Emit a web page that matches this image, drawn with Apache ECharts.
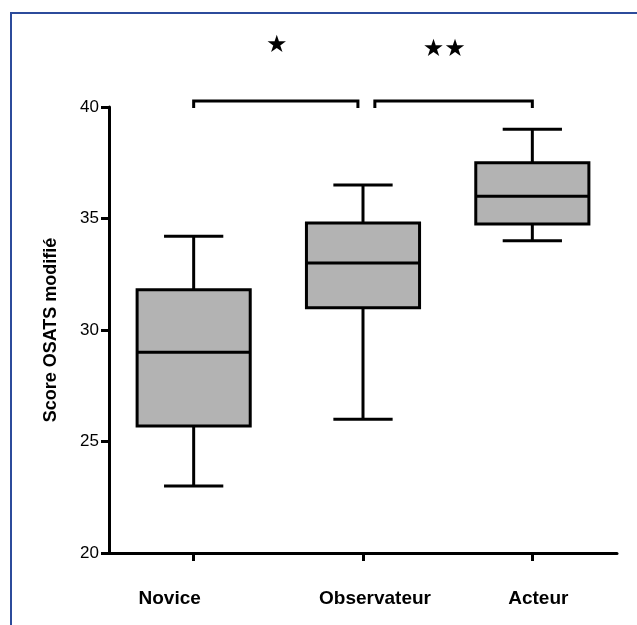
<!DOCTYPE html>
<html>
<head>
<meta charset="utf-8">
<script src="https://cdn.jsdelivr.net/npm/echarts@6/dist/echarts.min.js"></script>
<style>
html,body{margin:0;padding:0;background:#fff;}
#chart{width:637px;height:625px;}
</style>
</head>
<body>
<div id="chart"></div>
<script>
// ---- data ----
const categories = ['Novice', 'Observateur', 'Acteur'];
const whiskerMin = [23, 26, 34];
const quartile1 = [25.7, 31, 34.75];
const medians = [29, 33, 36];
const quartile3 = [31.8, 34.8, 37.5];
const whiskerMax = [34.2, 36.5, 39];
const yMin = 20, yMax = 40, yStep = 5;
const axisTitle = 'Score OSATS modifié';
// significance brackets (category positions, score levels)
const bracketFrom = [0, 1.07];
const bracketTo = [0.97, 2.0];
const bracketLevel = [40.27, 40.27];
const bracketFoot = [39.95, 39.95];
const starLabels = ['★', '★★'];
const starPos = [0.49, 1.48];
const starLevel = [42.74, 42.56];

const FONT = '"Liberation Sans", Arial, sans-serif';
const boxData = categories.map((c, i) => [i, whiskerMin[i], quartile1[i], medians[i], quartile3[i], whiskerMax[i]]);

function xAt(api, v, y) {
  const base = Math.floor(v);
  const band = api.size([1, 0])[0];
  const p = api.coord([base, y]);
  return [p[0] + (v - base) * band, p[1]];
}

const chart = echarts.init(document.getElementById('chart'));
chart.setOption({
  animation: false,
  backgroundColor: 'transparent',
  graphic: [{
    type: 'polyline',
    shape: { points: [[11, 625], [11, 13], [637, 13]] },
    style: { stroke: '#2c4b9b', lineWidth: 2, fill: null }
  }],
  grid: { left: 109, right: 20, top: 107, bottom: 72 },
  xAxis: {
    type: 'category',
    data: categories,
    axisLine: { lineStyle: { color: '#000', width: 3 } },
    axisTick: { show: true, interval: 0, alignWithLabel: true, length: 8, lineStyle: { color: '#000', width: 3 } },
    axisLabel: {
      interval: 0,
      hideOverlap: false,
      margin: 36,
      color: '#000',
      fontFamily: FONT,
      fontWeight: 'bold',
      fontSize: 19,
      formatter: (v, i) => '{l' + i + '|' + v + '}',
      rich: {
        l0: { fontFamily: FONT, fontWeight: 'bold', fontSize: 19, color: '#000', padding: [0, 48, 0, 0] },
        l1: { fontFamily: FONT, fontWeight: 'bold', fontSize: 19, color: '#000', padding: [0, 0, 0, 24] },
        l2: { fontFamily: FONT, fontWeight: 'bold', fontSize: 19, color: '#000', padding: [0, 0, 0, 12] }
      }
    },
    splitLine: { show: false }
  },
  yAxis: {
    type: 'value',
    min: yMin, max: yMax, interval: yStep,
    name: axisTitle,
    nameLocation: 'middle',
    nameGap: 49,
    nameRotate: 90,
    nameTextStyle: { fontFamily: FONT, fontWeight: 'bold', fontSize: 18, color: '#000' },
    axisLine: { show: true, lineStyle: { color: '#000', width: 3 } },
    axisTick: { show: true, length: 8, lineStyle: { color: '#000', width: 3 } },
    axisLabel: { margin: 10, color: '#000', fontFamily: FONT, fontSize: 17 },
    splitLine: { show: false }
  },
  series: [
    {
      type: 'custom',
      data: boxData,
      encode: { x: 0, y: [1, 2, 3, 4, 5] },
      renderItem: function (params, api) {
        const i = api.value(0);
        const band = api.size([1, 0])[0];
        const boxHalf = band * 0.334;
        const capHalf = band * 0.175;
        const pMin = api.coord([i, api.value(1)]);
        const pQ1 = api.coord([i, api.value(2)]);
        const pMed = api.coord([i, api.value(3)]);
        const pQ3 = api.coord([i, api.value(4)]);
        const pMax = api.coord([i, api.value(5)]);
        const cx = pMed[0];
        const ls = { stroke: '#000', lineWidth: 3, fill: null };
        return {
          type: 'group',
          children: [
            { type: 'line', shape: { x1: cx, y1: pMax[1], x2: cx, y2: pQ3[1] }, style: ls },
            { type: 'line', shape: { x1: cx, y1: pQ1[1], x2: cx, y2: pMin[1] }, style: ls },
            { type: 'line', shape: { x1: cx - capHalf, y1: pMax[1], x2: cx + capHalf, y2: pMax[1] }, style: ls },
            { type: 'line', shape: { x1: cx - capHalf, y1: pMin[1], x2: cx + capHalf, y2: pMin[1] }, style: ls },
            { type: 'rect', shape: { x: cx - boxHalf, y: pQ3[1], width: boxHalf * 2, height: pQ1[1] - pQ3[1] },
              style: { fill: '#b3b3b3', stroke: '#000', lineWidth: 3 } },
            { type: 'line', shape: { x1: cx - boxHalf, y1: pMed[1], x2: cx + boxHalf, y2: pMed[1] }, style: ls }
          ]
        };
      },
      z: 3
    },
    {
      type: 'custom',
      data: bracketFrom.map((_, k) => [k, bracketLevel[k]]),
      encode: { x: 0, y: 1 },
      clip: false,
      renderItem: function (params, api) {
        const k = params.dataIndex;
        const a = xAt(api, bracketFrom[k], bracketLevel[k]);
        const b = xAt(api, bracketTo[k], bracketLevel[k]);
        const foot = api.coord([0, bracketFoot[k]])[1];
        const s = xAt(api, starPos[k], starLevel[k]);
        return {
          type: 'group',
          children: [
            { type: 'polyline', shape: { points: [[a[0], foot], [a[0], a[1]], [b[0], b[1]], [b[0], foot]] },
              style: { stroke: '#000', lineWidth: 3, fill: null } },
            { type: 'text', x: s[0], y: s[1],
              style: { text: starLabels[k], fill: '#000', fontSize: 24, fontFamily: '"DejaVu Sans", sans-serif',
                       align: 'center', verticalAlign: 'middle' } }
          ]
        };
      },
      z: 4
    }
  ]
});
</script>
</body>
</html>
